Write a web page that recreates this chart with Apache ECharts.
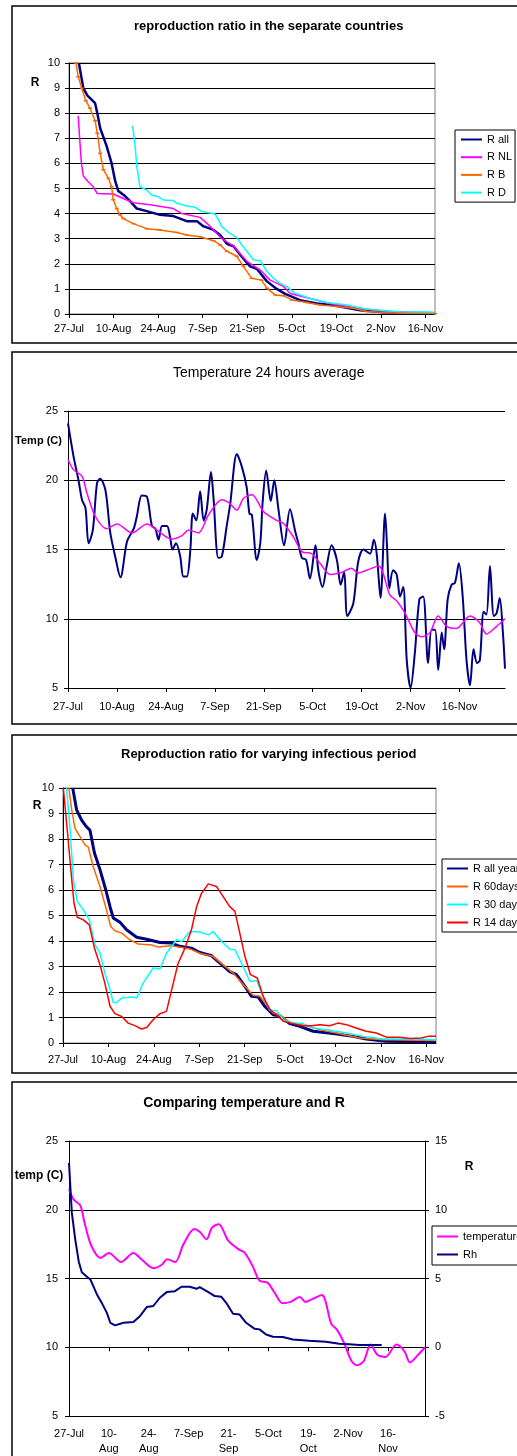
<!DOCTYPE html>
<html>
<head>
<meta charset="utf-8">
<script src="https://cdn.jsdelivr.net/npm/echarts@6/dist/echarts.min.js"></script>
<style>
html,body{margin:0;padding:0;background:#fff;overflow:hidden;}
#c{width:517px;height:1456px;}
</style>
</head>
<body>
<div id="c"></div>
<script>
// ---------- shared axis ticks (days after 27-Jul) ----------
const tickDays = [0, 14, 28, 42, 56, 70, 84, 98, 112];
const tickLabels = ['27-Jul','10-Aug','24-Aug','7-Sep','21-Sep','5-Oct','19-Oct','2-Nov','16-Nov'];
const tickLabelsWrapped = ['27-Jul','10-\nAug','24-\nAug','7-Sep','21-\nSep','5-Oct','19-\nOct','2-Nov','16-\nNov'];

// ---------- panel 1: reproduction ratio in the separate countries ----------
const rAllDays = [3.1,4.5,5.8,8.2,8.9,9.8,11.8,13.4,14.5,15.5,17.6,19.2,21.3,24.4,28.6,32.8,37,40.2,42.2,45.4,47.5,49.6,51.7,54.8,56.9,59,62.2,65.3,67.9,72.6,77.9,83,91.5,98.8,106,115];
const rAllVals = [10,9.0,8.7,8.4,8.0,7.4,6.7,6.0,5.3,4.9,4.7,4.5,4.2,4.1,3.95,3.9,3.7,3.7,3.5,3.35,3.15,2.8,2.7,2.2,1.9,1.8,1.3,1.0,0.8,0.55,0.42,0.35,0.15,0.07,0.05,0.03];
const rNLDays = [2.9,3.4,3.9,4.5,5.8,7.6,8.9,13.9,17.1,20.2,25.5,32.8,35.4,41.2,44.3,48,51.7,55.9,60.1,63.2,67.4,69.5,75.8,82,90,100,110,115];
const rNLVals = [7.9,6.9,6.0,5.5,5.3,5.07,4.8,4.78,4.6,4.43,4.35,4.2,4.0,3.85,3.5,3.0,2.7,2.1,1.75,1.35,1.1,0.82,0.62,0.42,0.25,0.1,0.05,0.03];
const rBDays = [2.2,2.9,4,5.3,6.6,8.2,8.9,9.8,10.8,12.4,13.4,13.9,15,16,17.1,20.2,24.4,28.6,33.9,37,41.2,45.4,47.5,49.6,52.7,54.8,57.4,60.5,62.2,64.8,67.4,70,74.7,78.9,84.1,89.4,93.6,104,115];
const rBVals = [10,9.45,9.0,8.5,8.2,7.7,7.2,6.4,5.75,5.4,5.07,4.55,4.2,3.95,3.8,3.6,3.4,3.35,3.25,3.15,3.08,2.92,2.75,2.5,2.3,1.9,1.42,1.35,1.02,0.76,0.73,0.56,0.46,0.36,0.3,0.23,0.1,0.03,0.02];
const rDDays = [20,20.8,21.3,22.3,24.4,26,28.1,29.7,32.8,33.9,37,39.7,41.7,45.9,47,48,50.6,52.7,54.3,56.4,58,60.1,62.2,64.3,66.3,68.5,70.6,75.8,81,87.3,93.6,104,115];
const rDVals = [7.5,6.67,5.87,5.07,4.94,4.74,4.67,4.54,4.52,4.41,4.3,4.25,4.08,3.98,3.75,3.48,3.2,3.05,2.75,2.42,2.15,2.12,1.69,1.42,1.22,1.09,0.85,0.62,0.46,0.36,0.19,0.09,0.07];

// ---------- panel 2: temperature 24 hours average ----------
const temp24Days = [0,1.6,3,4,5,5.9,7.1,8.3,9.2,10.7,12.1,13.5,15,16.9,18.8,19.7,21.1,22.6,24,25,25.9,26.9,28.3,29.2,29.9,30.9,32.1,33,34,35,35.7,36.7,37.8,38.8,39.7,40.9,41.6,43,44,45.4,46.4,48.3,49.7,51.1,51.9,52.6,54,55,55.7,56.7,58,59,60.2,61.8,63.5,65,65.9,66.9,68.1,69.2,70.8,71.6,72.8,74,75.4,76.9,78,79,79.9,81.6,83,84.5,86.4,87.5,88.3,89.4,90.7,91.3,91.9,93,94,95,95.9,96.9,98,99.2,100.5,101.6,103,104,105,105.9,106.9,107.6,108.6,109.7,110.7,111.8,112.9,114,115,116,117,117.8,118.9,119.7,120.7,121.8,122.6,123.5,124.4,125];
const temp24Vals = [24.1,21.7,20.0,18.6,18.0,15.45,16.4,19.8,20.1,19.3,16.2,14.5,13.0,15.6,16.5,17.4,18.9,18.8,16.7,16.5,15.7,16.7,16.7,15.9,15.0,15.45,14.5,13.05,13.05,15.0,17.6,17.1,19.2,17.1,17.9,20.6,18.8,14.4,14.5,16.7,18.3,21.9,21.0,19.5,17.6,17.5,14.25,15.45,18.5,20.7,18.5,20.0,17.9,15.3,17.9,16.3,15.45,14.4,14.25,12.9,15.3,13.5,12.3,13.8,15.3,14.25,12.45,13.4,10.2,11.1,14.1,15.0,14.7,15.7,14.7,11.5,17.6,15.0,12.2,13.5,13.2,11.6,12.3,7.0,5.0,7.5,11.4,11.6,6.8,9.2,9.2,6.3,9.0,7.8,11.4,12.45,12.6,14.0,11.6,7.0,5.2,7.8,6.8,7.0,10.5,10.3,13.8,10.2,10.4,11.5,9.0,6.4];
const tempAvgDays = [0,1.6,4,5.4,7.8,11.1,14,18.3,22.6,25.4,29.7,32.6,34.5,37.3,40.2,44,45.9,48.3,50.2,52.6,55.9,59.7,61.6,64.5,66.9,69.7,72.1,75,77.8,81.1,83,85.4,88.8,92.1,94,96.4,99.2,101.1,103.5,105.9,108.3,111.1,115,117.8,119.7,122.6,125];
const tempAvgVals = [21.5,20.75,20.3,19.1,17.4,16.5,16.85,16.2,16.85,16.4,15.75,16.0,16.4,16.2,17.5,18.6,18.4,17.85,18.7,18.95,17.75,17.1,16.9,15.9,14.85,14.7,14.0,13.2,13.3,13.65,13.3,13.5,13.8,11.7,11.3,10.4,9.0,8.7,9.0,10.2,9.45,9.3,10.2,9.7,8.9,9.45,10.0];

// ---------- panel 3: reproduction ratio for varying infectious period ----------
const rAllYearDays = [3.0,4.2,5.7,7.1,8.3,9.7,11.4,13.2,14.5,15.5,17.6,19.6,22.7,25.8,29.9,33.5,36,39.6,42.2,45.8,48.4,51.4,53.5,56.1,58.1,60.2,62.2,64.8,66.8,69.9,73,77.1,83.3,89.4,93.5,99.7,115];
const rAllYearVals = [10,9.14,8.75,8.5,8.35,7.45,6.8,6.0,5.35,4.9,4.73,4.44,4.15,4.07,3.94,3.92,3.79,3.72,3.55,3.42,3.13,2.8,2.68,2.22,1.83,1.8,1.44,1.11,1.07,0.76,0.65,0.46,0.37,0.26,0.16,0.07,0.04];
const r60Days = [1.8,2.7,3.7,5.2,6.8,7.8,9.3,11.4,13.4,14.7,16,18.1,20.6,23.2,27.3,29.4,33,36,39.1,42.2,46.3,48.9,52.5,56.6,58.6,60.7,64.8,66.8,69.9,75,79.2,84.3,91.5,98.7,115];
const r60Vals = [10,9.14,8.42,8.1,7.77,7.68,6.92,6.14,5.22,4.57,4.4,4.31,4.05,3.88,3.84,3.76,3.81,3.76,3.69,3.52,3.39,3.11,2.74,2.15,1.87,1.83,1.17,1.11,0.81,0.68,0.52,0.39,0.2,0.13,0.1];
const r30Days = [1.1,2.2,3.2,4.4,6.3,8.1,9.9,11.4,12.9,14.5,15.5,16.5,18.1,21.7,22.7,24.7,27.8,29.9,31.9,35,36.6,39.1,42.2,44.8,46.3,48.9,51.4,53,55.5,57.6,59.7,61.7,63.8,65.8,67.9,70.9,74,77.1,82.2,87.4,92.5,98.7,106.9,115];
const r30Vals = [10,8.35,6.4,5.55,5.22,4.83,3.85,3.52,2.74,2.09,1.59,1.59,1.76,1.8,1.76,2.35,2.94,2.9,3.52,4.05,3.98,4.37,4.35,4.24,4.37,3.98,3.68,3.66,3.0,2.42,2.45,1.83,1.27,1.27,0.91,0.78,0.76,0.59,0.5,0.39,0.26,0.16,0.16,0.13];
const r14Days = [0.1,1.6,2.7,3.4,4.4,6.3,8.1,9.7,11.4,12.9,14.5,16,18.1,20.1,22.2,24.2,25.8,27.8,29.9,31.9,34,35.5,37.6,39.6,41.2,42.7,44.8,47.3,49.4,51.4,53,54.5,56.1,57.8,59.9,61.7,63.8,65.8,67.9,70.9,74,76.6,79.2,82.2,84.8,87.4,89.9,93.5,96.6,99.7,103.8,106.9,110.5,112.5,115];
const r14Vals = [10,7.96,6.4,5.48,4.93,4.83,4.63,3.72,3.07,2.35,1.44,1.15,1.04,0.78,0.68,0.55,0.61,0.91,1.15,1.24,2.35,3.13,3.72,4.44,5.35,5.87,6.24,6.14,5.74,5.35,5.16,4.31,3.39,2.68,2.55,1.83,1.31,1.11,0.85,0.76,0.68,0.68,0.72,0.68,0.78,0.72,0.61,0.46,0.39,0.23,0.23,0.18,0.2,0.26,0.26];

// ---------- panel 4: comparing temperature and R ----------
const rhDays = [0,1,2.2,3.4,4.5,6.1,7.5,9.8,11.5,13.3,14.5,16.2,19.1,22.6,24.9,27.3,29.6,31.9,34.3,37.2,39.5,42.4,44.8,45.9,48.8,51.2,53.5,55.2,57.6,59.9,62.2,65.2,66.9,69.2,71.6,75.1,78.6,84.4,90.2,94.9,98.4,101.9,109.8];
const rhVals = [13.4,9.77,7.83,6.26,5.46,5.17,4.93,3.84,3.23,2.5,1.78,1.59,1.78,1.83,2.26,2.92,3.0,3.6,4.01,4.08,4.4,4.4,4.25,4.37,4.03,3.72,3.67,3.23,2.43,2.38,1.78,1.34,1.3,0.93,0.76,0.74,0.57,0.47,0.4,0.25,0.21,0.16,0.16];

// ---------- build ----------
const FONT = '"Liberation Sans", Arial, sans-serif';
const zip = (d, v) => d.map((x, i) => [x, v[i]]);

function xAx(gi, max, margin, labels, lh) {
  return {
    type: 'value', gridIndex: gi, min: 0, max: max,
    axisLine: { show: true, lineStyle: { color: '#000', width: 1 } },
    axisTick: { show: true, customValues: tickDays, length: 4, lineStyle: { color: '#000' } },
    axisLabel: { customValues: tickDays, margin: margin, color: '#000', fontSize: 11, fontFamily: FONT,
      lineHeight: lh || 13,
      formatter: v => labels[tickDays.indexOf(v)] || '' },
    splitLine: { show: false }
  };
}
function yAx(gi, min, max, interval, margin, extra) {
  return Object.assign({
    type: 'value', gridIndex: gi, min: min, max: max, interval: interval,
    axisLine: { show: true, lineStyle: { color: '#000', width: 1 } },
    axisTick: { show: true, length: 4, lineStyle: { color: '#000' } },
    axisLabel: { margin: margin, color: '#000', fontSize: 11, fontFamily: FONT },
    splitLine: { show: true, lineStyle: { color: '#000', width: 1 } }
  }, extra || {});
}
function line(name, xi, yi, data, color, width, extra) {
  return Object.assign({
    name: name, type: 'line', xAxisIndex: xi, yAxisIndex: yi, data: data,
    symbol: 'none', showSymbol: false, lineStyle: { color: color, width: width },
    itemStyle: { color: color }, animation: false, clip: true
  }, extra || {});
}
function txt(x, y, text, size, bold, align) {
  return { type: 'text', x: x, y: y, silent: true,
    style: { text: text, fontSize: size, fontWeight: bold ? 'bold' : 'normal', fontFamily: FONT,
      fill: '#000', align: align || 'center', verticalAlign: 'middle' } };
}
function box(y, h) {
  return { type: 'rect', silent: true, shape: { x: 12, y: y, width: 530, height: h },
    style: { fill: 'none', stroke: '#000', lineWidth: 1.5 } };
}
const legendBase = {
  orient: 'vertical', itemWidth: 21, itemHeight: 8, borderColor: '#000', borderWidth: 1,
  backgroundColor: '#fff', selectedMode: false,
  itemStyle: { opacity: 0 },
  textStyle: { fontSize: 11, color: '#000', fontFamily: FONT }
};

const option = {
  animation: false,
  grid: [
    { left: 69, top: 63, width: 366, height: 251, show: true, borderColor: '#808080', borderWidth: 1 },
    { left: 68, top: 411, width: 437, height: 277 },
    { left: 63, top: 788, width: 373, height: 255, show: true, borderColor: '#808080', borderWidth: 1 },
    { left: 69, top: 1141, width: 356, height: 276 }
  ],
  xAxis: [
    xAx(0, 115, 8, tickLabels),
    xAx(1, 125, 12, tickLabels),
    xAx(2, 115, 10, tickLabels),
    xAx(3, 125, 10, tickLabelsWrapped, 15)
  ],
  yAxis: [
    yAx(0, 0, 10, 1, 9),
    yAx(1, 5, 25, 5, 10),
    yAx(2, 0, 10, 1, 9),
    yAx(3, 5, 25, 5, 11),
    yAx(3, -5, 15, 5, 10, { position: 'right', splitLine: { show: false } })
  ],
  legend: [
    Object.assign({}, legendBase, { data: ['R all', 'R NL', 'R B', 'R D'], left: 455, top: 130, itemGap: 6.7, padding: [4, 3, 4, 5] }),
    Object.assign({}, legendBase, { data: ['R all year', 'R 60days', 'R 30 days', 'R 14 days'], left: 442, top: 859, itemGap: 7, padding: [4, 6, 4, 4] }),
    Object.assign({}, legendBase, { data: ['temperature', 'Rh'], left: 432, top: 1226, itemGap: 7, padding: [5, 6, 5, 4] })
  ],
  series: [
    line('R all', 0, 0, zip(rAllDays, rAllVals), '#000080', 2.5),
    line('R NL', 0, 0, zip(rNLDays, rNLVals), '#FF00FF', 1.5),
    line('R B', 0, 0, zip(rBDays, rBVals), '#FF6600', 1.5, { symbol: 'rect', symbolSize: [4, 1.5], showSymbol: true }),
    line('R D', 0, 0, zip(rDDays, rDVals), '#00FFFF', 1.5),

    line('Temp 24h', 1, 1, zip(temp24Days, temp24Vals), '#000080', 2, { smooth: 0.3 }),
    line('Temp smoothed', 1, 1, zip(tempAvgDays, tempAvgVals), '#FF00FF', 1.5, { smooth: 0.3 }),

    line('R all year', 2, 2, zip(rAllYearDays, rAllYearVals), '#000080', 3),
    line('R 60days', 2, 2, zip(r60Days, r60Vals), '#FF6600', 1.5),
    line('R 30 days', 2, 2, zip(r30Days, r30Vals), '#00FFFF', 1.5),
    line('R 14 days', 2, 2, zip(r14Days, r14Vals), '#FF0000', 1.5),

    line('temperature', 3, 3, zip(tempAvgDays, tempAvgVals), '#FF00FF', 2, { smooth: 0.3 }),
    line('Rh', 3, 4, zip(rhDays, rhVals), '#000080', 2)
  ],
  graphic: { elements: [
    box(6, 337), box(352, 372), box(735, 338), box(1082, 400),
    txt(268.7, 26, 'reproduction ratio in the separate countries', 13, true),
    txt(268.7, 373, 'Temperature 24 hours average', 14, false),
    txt(268.7, 754, 'Reproduction ratio for varying infectious period', 13, true),
    txt(244, 1103, 'Comparing temperature and R', 14, true),
    txt(35, 83, 'R', 12, true),
    txt(38.5, 441, 'Temp (C)', 11, true),
    txt(37, 806, 'R', 12, true),
    txt(39, 1176, 'temp (C)', 12, true),
    txt(469, 1167, 'R', 12, true)
  ] }
};

const chart = echarts.init(document.getElementById('c'), null, { renderer: 'canvas' });
chart.setOption(option);
</script>
</body>
</html>
